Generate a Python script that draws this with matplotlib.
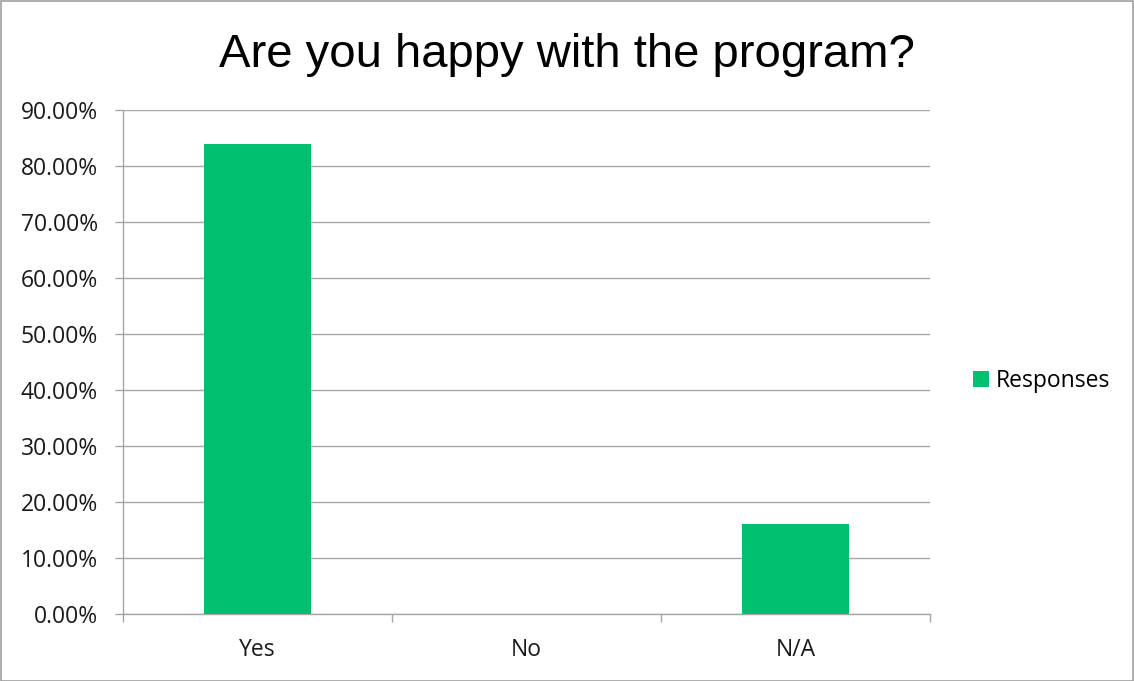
import matplotlib
matplotlib.use("Agg")
import matplotlib.pyplot as plt
from matplotlib.patches import Rectangle
from matplotlib.ticker import FuncFormatter, FixedLocator

categories = ["Yes", "No", "N/A"]
responses = [83.9, 0.0, 16.1]
series_name = "Responses"
title = "Are you happy with the program?"

W, H = 1134, 681
fig = plt.figure(figsize=(W / 100, H / 100), dpi=100)
ax = fig.add_axes([123 / W, 67 / H, (930 - 123) / W, (614 - 110) / H])

green = "#00BF6F"
grid_c = "#A6A6A6"
tick_font = "Open Sans"
fs = 16.5

x = list(range(len(categories)))
ax.bar(x, responses, width=0.4, color=green, zorder=3, label=series_name)

ax.set_xlim(-0.5, len(categories) - 0.5)
ax.set_ylim(0, 90)
ax.set_yticks([i * 10 for i in range(10)])
ax.yaxis.set_major_formatter(FuncFormatter(lambda v, p: f"{v:.2f}%"))
ax.grid(axis="y", color=grid_c, linewidth=1, zorder=0)
ax.set_axisbelow(True)

ax.set_xticks(x)
ax.set_xticklabels(categories)
ax.xaxis.set_minor_locator(FixedLocator([i - 0.5 for i in range(len(categories) + 1)]))
ax.tick_params(axis="x", which="major", length=0, pad=17, labelsize=fs)
ax.tick_params(axis="x", which="minor", length=5.5, color=grid_c, width=1)
ax.tick_params(axis="y", length=6, color=grid_c, width=1, pad=12, labelsize=fs)
for lab in ax.get_xticklabels() + ax.get_yticklabels():
    lab.set_fontfamily(tick_font)
    lab.set_color("#1a1a1a")

for s in ["top", "right"]:
    ax.spines[s].set_visible(False)
for s in ["left", "bottom"]:
    ax.spines[s].set_color(grid_c)
    ax.spines[s].set_linewidth(1)

fig.text(0.5, 1 - 67 / H, title, ha="center", va="baseline",
         fontsize=34, family="Liberation Sans", color="#000000")

leg = fig.legend(loc="center left", bbox_to_anchor=(952 / W, 1 - 381 / H),
                 frameon=False, prop={"family": tick_font, "size": fs},
                 handlelength=0.7, handleheight=0.7, handletextpad=0.3)

fig.patches.append(Rectangle((0.5 / W, 0.5 / H), 1 - 1.5 / W, 1 - 1.5 / H,
                             transform=fig.transFigure, fill=False,
                             edgecolor="#A0A0A0", linewidth=1.2))

fig.savefig("out.png", dpi=100, facecolor="white")
